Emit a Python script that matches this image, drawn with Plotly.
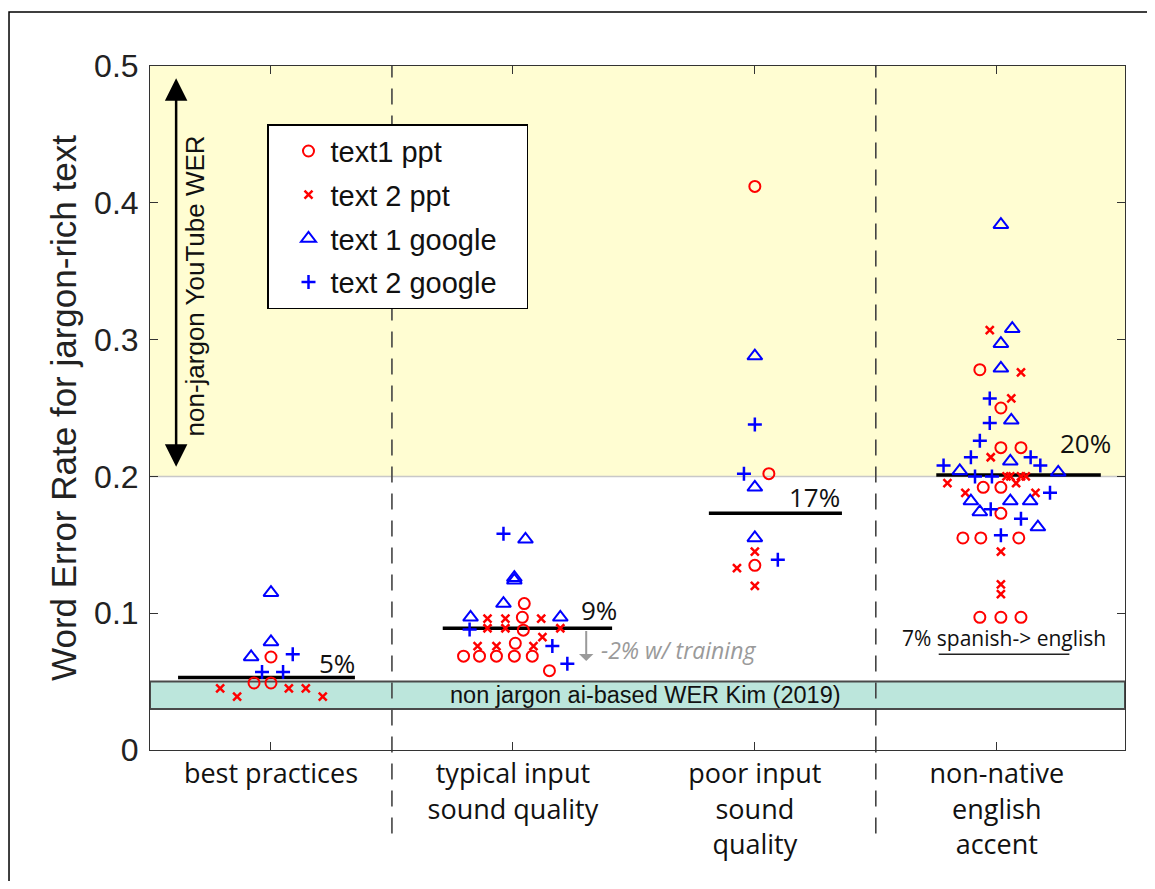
import plotly.graph_objects as go

# ---------------- data ----------------
categories = ["best practices", "typical input<br>sound quality",
              "poor input<br>sound<br>quality", "non-native<br>english<br>accent"]
cat_pos = [1, 2, 3, 4]

# text1 ppt (red circles)
t1ppt_x = [1.0, 0.93, 1.0,
           2.047, 2.039, 2.043, 2.010, 1.796, 1.862, 1.932, 2.006, 2.080, 2.151,
           3.0, 3.058, 3.0,
           3.93, 4.017, 4.017, 4.10, 3.944, 4.017, 4.017, 3.86, 3.934, 4.091, 3.93, 4.017, 4.10]
t1ppt_y = [0.068, 0.049, 0.049,
           0.107, 0.097, 0.0876, 0.078, 0.0686, 0.0686, 0.0686, 0.0686, 0.0686, 0.058,
           0.412, 0.202, 0.135,
           0.278, 0.250, 0.221, 0.221, 0.192, 0.192, 0.173, 0.155, 0.155, 0.155, 0.097, 0.097, 0.097]

# text 2 ppt (red x)
t2ppt_x = [0.79, 0.86, 1.074, 1.144, 1.214,
           1.895, 1.969, 2.117, 1.895, 1.969, 2.196, 2.122, 1.854, 1.932, 2.085,
           3.0, 2.926, 3.0,
           3.971, 4.10, 4.06, 3.975, 4.04, 4.056, 4.10, 4.12, 3.796, 4.08, 3.87, 4.16, 4.017, 4.017, 4.017]
t2ppt_y = [0.045, 0.039, 0.045, 0.045, 0.039,
           0.096, 0.096, 0.096, 0.089, 0.089, 0.089, 0.0825, 0.076, 0.076, 0.076,
           0.145, 0.133, 0.120,
           0.307, 0.276, 0.257, 0.214, 0.200, 0.200, 0.200, 0.200, 0.195, 0.195, 0.188, 0.188, 0.145, 0.121, 0.114]

# text 1 google (blue triangles)
t1g_x = [1.0, 1.0, 0.918,
         2.052, 2.006, 2.006, 1.961, 1.825, 2.196,
         3.0, 3.0, 3.0,
         4.017, 4.064, 4.017, 4.017, 4.06, 4.056, 3.847, 4.254, 3.893, 4.056, 4.138, 3.93, 4.17]
t1g_y = [0.115, 0.079, 0.068,
         0.154, 0.126, 0.124, 0.107, 0.097, 0.097,
         0.288, 0.192, 0.155,
         0.384, 0.308, 0.297, 0.279, 0.241, 0.211, 0.204, 0.203, 0.182, 0.182, 0.182, 0.174, 0.163]

# text 2 google (blue plus)
t2g_x = [1.09, 0.963, 1.05,
         1.961, 1.821, 2.163, 2.225,
         3.0, 2.955, 3.095,
         3.971, 3.971, 3.93, 3.893, 4.14, 3.78, 4.18, 3.91, 3.98, 4.22, 3.975, 4.10, 4.017]
t2g_y = [0.070, 0.057, 0.057,
         0.158, 0.088, 0.076, 0.063,
         0.238, 0.202, 0.139,
         0.257, 0.239, 0.226, 0.214, 0.214, 0.208, 0.208, 0.200, 0.200, 0.188, 0.176, 0.169, 0.157]

group_means = [0.053, 0.089, 0.173, 0.201]
mean_labels = ["5%", "9%", "17%", "20%"]

youtube_wer_range = [0.2, 0.5]
kim_wer_range = [0.03, 0.05]
spanish_wer = 0.07

y_ticks = [0, 0.1, 0.2, 0.3, 0.4, 0.5]
y_ticktext = ["0", "0.1", "0.2", "0.3", "0.4", "0.5"]

# ---------------- figure ----------------
RED = "#FF0000"
BLUE = "#0000FF"
SANS = "Liberation Sans, Arial, sans-serif"
MYR = "Open Sans, sans-serif"
PAD = "\u00a0\u00a0\u00a0"

fig = go.Figure()
fig.add_trace(go.Scatter(x=t1ppt_x, y=t1ppt_y, mode="markers", name="text1 ppt", legendgroup="a",
                         marker=dict(symbol="circle-open", size=11, color=RED, line=dict(width=2, color=RED))))
fig.add_trace(go.Scatter(x=t2ppt_x, y=t2ppt_y, mode="markers", name="text 2 ppt", legendgroup="b",
                         marker=dict(symbol="x-thin-open", size=8, color=RED, line=dict(width=2.5, color=RED))))
fig.add_trace(go.Scatter(x=t1g_x, y=t1g_y, mode="markers", name="text 1 google" + PAD, legendgroup="c",
                         marker=dict(symbol="triangle-up-open", size=13, color=BLUE, line=dict(width=2, color=BLUE))))
fig.add_trace(go.Scatter(x=t2g_x, y=t2g_y, mode="markers", name="text 2 google", legendgroup="d",
                         marker=dict(symbol="cross-thin-open", size=10, color=BLUE, line=dict(width=2.5, color=BLUE))))

shapes = []
# yellow region
shapes.append(dict(type="rect", xref="paper", yref="y", x0=0, x1=1,
                   y0=youtube_wer_range[0], y1=youtube_wer_range[1],
                   fillcolor="#FFFDD2", line=dict(width=0), layer="below"))
shapes.append(dict(type="line", xref="paper", yref="y", x0=0, x1=1,
                   y0=youtube_wer_range[0], y1=youtube_wer_range[0],
                   line=dict(color="#C8C8C8", width=1.5), layer="below"))
# teal band
shapes.append(dict(type="rect", xref="paper", yref="y", x0=0, x1=1,
                   y0=kim_wer_range[0], y1=kim_wer_range[1],
                   fillcolor="#BCE6DC", line=dict(color="#4A4A4A", width=2), layer="below"))
# dashed dividers
for xd in [1.5, 3.5]:
    shapes.append(dict(type="line", xref="x", yref="paper", x0=xd, x1=xd, y0=-0.122, y1=1,
                       line=dict(color="#444444", width=1.6, dash="16px,11px"), layer="below"))
# mean lines
mean_extent = [(0.616, 1.347), (1.71, 2.41), (2.81, 3.36), (3.75, 4.43)]
for (a, b), m in zip(mean_extent, group_means):
    shapes.append(dict(type="line", xref="x", yref="y", x0=a, x1=b, y0=m, y1=m,
                       line=dict(color="black", width=3.5), layer="below"))
# spanish underline
shapes.append(dict(type="line", xref="x", yref="y", x0=3.76, x1=4.30, y0=spanish_wer, y1=spanish_wer,
                   line=dict(color="#222222", width=1.5)))
# outer frame
shapes.append(dict(type="rect", xref="paper", yref="paper", x0=-0.1446, x1=1.2, y0=-0.4, y1=1.0789,
                   line=dict(color="black", width=1.5), fillcolor="rgba(0,0,0,0)"))

annotations = []
label_x = [1.355, 2.44, 3.36, 4.48]
label_shift = [15, 18, 16, 32]
for lx, m, t, s in zip(label_x, group_means, mean_labels, label_shift):
    annotations.append(dict(x=lx, y=m, xref="x", yref="y", text=t, showarrow=False,
                            xanchor="right", yanchor="middle", yshift=s,
                            font=dict(family=MYR, size=26, color="#111111")))
annotations.append(dict(x=4.03, y=spanish_wer, xref="x", yref="y", text="7% spanish-> english",
                        showarrow=False, xanchor="center", yanchor="middle", yshift=16,
                        font=dict(family=MYR, size=21, color="#111111")))
annotations.append(dict(x=2.357, y=0.073, xref="x", yref="y", text="<i>-2% w/ training</i>",
                        showarrow=False, xanchor="left", yanchor="middle",
                        font=dict(family=MYR, size=23, color="#9A9A9A")))
annotations.append(dict(x=2.303, y=0.065, ax=2.303, ay=0.088, xref="x", yref="y", axref="x", ayref="y",
                        text="", showarrow=True, arrowhead=1, arrowsize=1.2, arrowwidth=2,
                        arrowcolor="#9A9A9A"))
annotations.append(dict(x=2.55, y=0.04, xref="x", yref="y", text="non jargon ai-based WER Kim (2019)",
                        showarrow=False, xanchor="center", yanchor="middle",
                        font=dict(family=SANS, size=23.5, color="#111111")))
# double headed arrow
annotations.append(dict(x=0.608, y=0.491, ax=0.608, ay=0.206, xref="x", yref="y", axref="x", ayref="y",
                        text="", showarrow=True, arrowhead=2, arrowside="end+start",
                        arrowsize=1.8, arrowwidth=2.5, arrowcolor="black"))
annotations.append(dict(x=0.687, y=0.339, xref="x", yref="y", text="non-jargon YouTube WER",
                        showarrow=False, textangle=-90, xanchor="center", yanchor="middle",
                        font=dict(family=SANS, size=26, color="#111111")))

fig.update_layout(
    width=1139, height=873,
    margin=dict(l=142, r=22, t=58, b=131, autoexpand=False),
    paper_bgcolor="white", plot_bgcolor="white",
    shapes=shapes, annotations=annotations,
    showlegend=True,
    legend=dict(x=0.12, y=0.915, xanchor="left", yanchor="top", bgcolor="white",
                bordercolor="black", borderwidth=1.5, tracegroupgap=3,
                indentation=18, itemwidth=34,
                font=dict(family=SANS, size=29, color="#111111")),
    xaxis=dict(range=[0.5, 4.53], tickmode="array", tickvals=cat_pos, ticktext=categories,
               ticks="inside", ticklen=8, tickcolor="#333333", showline=True, linecolor="#333333",
               linewidth=1, mirror="ticks", showgrid=False, zeroline=False,
               tickfont=dict(family=MYR, size=27, color="#111111")),
    yaxis=dict(range=[0, 0.5], tickmode="array", tickvals=y_ticks, ticktext=y_ticktext,
               ticks="inside", ticklen=8, tickcolor="#333333", showline=True, linecolor="#333333",
               linewidth=1, mirror="ticks", showgrid=False, zeroline=False,
               ticklabelstandoff=4,
               tickfont=dict(family=SANS, size=32, color="#222222"),
               title=dict(text="Word Error Rate for jargon-rich text", standoff=6,
                          font=dict(family=SANS, size=35, color="#222222"))),
)

fig.write_html("out.html")
